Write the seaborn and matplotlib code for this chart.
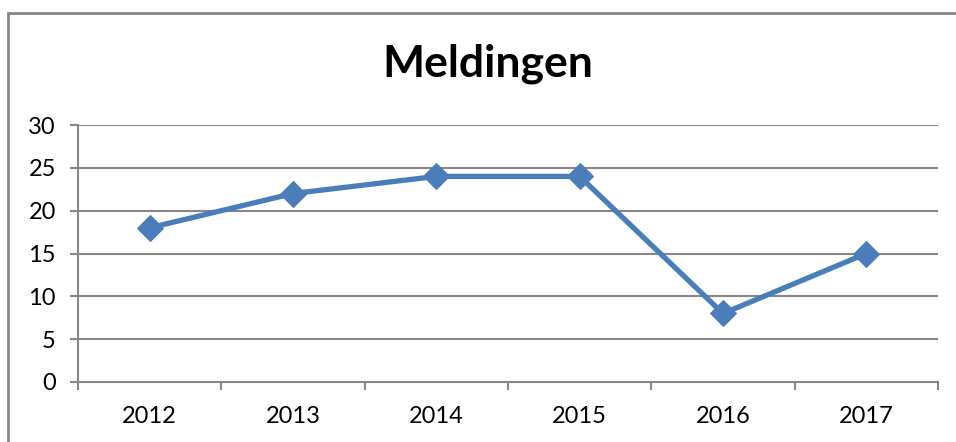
import pandas as pd
import seaborn as sns
import matplotlib.pyplot as plt
from matplotlib.patches import Rectangle

# data
years = ["2012", "2013", "2014", "2015", "2016", "2017"]
meldingen = [18, 22, 24, 24, 8, 15]
y_ticks = [0, 5, 10, 15, 20, 25, 30]

df = pd.DataFrame({"pos": range(len(years)), "meldingen": meldingen})

sns.set_style("white")
plt.rcParams["font.family"] = ["Lato", "DejaVu Sans"]

fig = plt.figure(figsize=(9.56, 4.42), dpi=100)
ax = fig.add_axes([78 / 956, 1 - 382 / 442, (938 - 78) / 956, (382 - 125) / 442])

grid_col = "#878787"
blue = "#4A7EBB"

sns.lineplot(data=df, x="pos", y="meldingen", ax=ax, color=blue, linewidth=3.8,
             marker="D", markersize=13, markeredgecolor=blue, zorder=3)

ax.set_xlim(-0.5, len(years) - 0.5)
ax.set_ylim(0, 30)
ax.set_yticks(y_ticks)
ax.set_yticklabels([str(t) for t in y_ticks], fontsize=17, color="black")
ax.set_xticks(range(len(years)))
ax.set_xticklabels(years, fontsize=17, color="black")
ax.set_xticks([i - 0.5 for i in range(len(years) + 1)], minor=True)
ax.tick_params(axis="x", which="major", bottom=False, length=0, pad=17)
ax.tick_params(axis="x", which="minor", bottom=True, length=6, width=1.5, color=grid_col)
ax.tick_params(axis="y", left=True, length=6, width=1.5, color=grid_col, pad=10)
for y in y_ticks[1:]:
    ax.axhline(y, color=grid_col, linewidth=1.5, zorder=1)
ax.set_xlabel("")
ax.set_ylabel("")
for side in ["top", "right"]:
    ax.spines[side].set_visible(False)
for side in ["left", "bottom"]:
    ax.spines[side].set_color(grid_col)
    ax.spines[side].set_linewidth(1.5)

fig.text(488 / 956, 1 - 64 / 442, "Meldingen", ha="center", va="center",
         fontsize=32, fontweight="bold", color="black")

# outer chart border
fig.patches.append(Rectangle((8 / 956, -0.1), 1.2, 1 - 13 / 442 + 0.1,
                             transform=fig.transFigure, fill=False,
                             edgecolor=grid_col, linewidth=2))

fig.savefig("out.png", dpi=100)
